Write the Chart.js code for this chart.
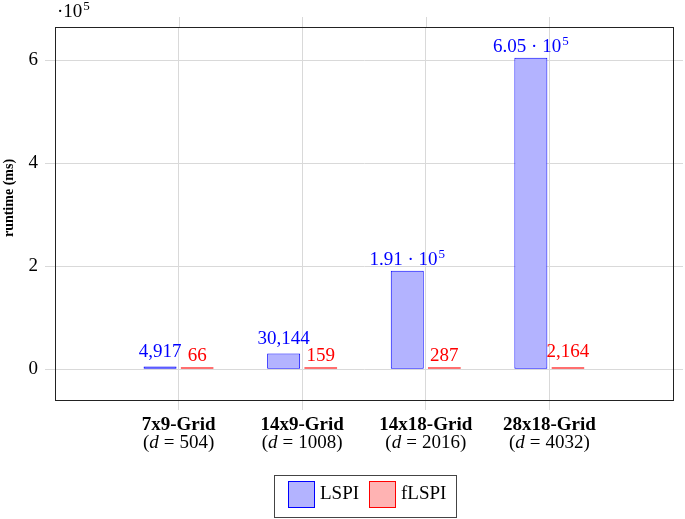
<!DOCTYPE html>
<html>
<head>
<meta charset="utf-8">
<script src="https://cdn.jsdelivr.net/npm/chart.js@4"></script>
<style>
  html, body { margin: 0; padding: 0; background: #fff; }
  #wrap { width: 685px; height: 519px; }
</style>
</head>
<body>
<div id="wrap"><canvas id="runtimeChart"></canvas></div>
<script>
const categories = ["7x9-Grid", "14x9-Grid", "14x18-Grid", "28x18-Grid"]
const dims = [504, 1008, 2016, 4032]
const lspi = [4917, 30144, 191000, 605000]
const flspi = [66, 159, 287, 2164]
const yTicks = [0, 200000, 400000, 600000]

const SERIF = "'Liberation Serif', 'Times New Roman', serif"
const GRID = "#d9d9d9"

// blank slots at both ends so the categories sit one step in from the frame
const labels = ["", ...categories, ""]
const pad = (arr) => [null, ...arr, null]

function labelParts(v) {
  if (v >= 100000) return [(v / 100000).toFixed(2) + " \u00b7 10", "5"]
  return [v.toLocaleString("en-US"), null]
}

function drawSup(ctx, main, sup, x, y, align) {
  ctx.font = "19px " + SERIF
  const w1 = ctx.measureText(main).width
  let w2 = 0
  if (sup) {
    ctx.font = "13px " + SERIF
    w2 = ctx.measureText(sup).width + 1
  }
  let x0 = align === "center" ? x - (w1 + w2) / 2 : x
  ctx.textAlign = "left"
  ctx.textBaseline = "alphabetic"
  ctx.font = "19px " + SERIF
  ctx.fillText(main, x0, y)
  if (sup) {
    ctx.font = "13px " + SERIF
    ctx.fillText(sup, x0 + w1 + 1, y - 7)
  }
}

const extras = {
  id: "extras",
  afterDatasetsDraw(chart) {
    const ctx = chart.ctx
    ctx.save()
    chart.data.datasets.forEach((ds, i) => {
      const meta = chart.getDatasetMeta(i)
      meta.data.forEach((bar, j) => {
        const v = ds.data[j]
        if (v == null) return
        const [main, sup] = labelParts(v)
        const lift = main.includes(",") ? 10 : 6
        ctx.fillStyle = ds.labelColor
        drawSup(ctx, main, sup, bar.x, bar.y - lift, "center")
      })
    })
    ctx.restore()
  },
  afterDraw(chart) {
    const ctx = chart.ctx
    const a = chart.chartArea
    const xs = chart.scales.x
    const ys = chart.scales.y
    ctx.save()

    // outside ticks on right and top
    ctx.strokeStyle = GRID
    ctx.lineWidth = 1
    ctx.beginPath()
    yTicks.forEach((t) => {
      const py = Math.round(ys.getPixelForValue(t)) + 0.5
      ctx.moveTo(a.right, py)
      ctx.lineTo(a.right + 10, py)
    })
    categories.forEach((c, i) => {
      const px = Math.round(xs.getPixelForValue(i + 1)) + 0.5
      ctx.moveTo(px, a.top)
      ctx.lineTo(px, a.top - 10)
    })
    ctx.stroke()

    // frame
    ctx.strokeStyle = "#222"
    ctx.strokeRect(Math.round(a.left) + 0.5, Math.round(a.top) + 0.5,
      Math.round(a.right - a.left), Math.round(a.bottom - a.top))

    // exponent marker
    ctx.fillStyle = "#000"
    drawSup(ctx, "\u00b710", "5", a.left + 2, 17, "left")

    // y title
    ctx.save()
    ctx.translate(9, 198)
    ctx.rotate(-Math.PI / 2)
    ctx.font = "bold 14px " + SERIF
    ctx.textAlign = "center"
    ctx.textBaseline = "middle"
    ctx.fillText("runtime (ms)", 0, 0)
    ctx.restore()

    // category labels
    ctx.fillStyle = "#000"
    categories.forEach((c, i) => {
      const px = xs.getPixelForValue(i + 1)
      const by = a.bottom + 48
      ctx.textAlign = "center"
      ctx.textBaseline = "alphabetic"
      ctx.font = "bold 19px " + SERIF
      ctx.fillText(c, px, a.bottom + 30)
      const parts = [
        ["(", "19px ", 0],
        ["d", "italic 19px ", 5],
        ["=", "19px ", 5],
        [dims[i] + ")", "19px ", 0],
      ]
      let total = 0
      parts.forEach((p) => {
        ctx.font = p[1] + SERIF
        p.push(ctx.measureText(p[0]).width)
        total += p[3] + p[2]
      })
      let x0 = px - total / 2
      ctx.textAlign = "left"
      parts.forEach((p) => {
        ctx.font = p[1] + SERIF
        ctx.fillText(p[0], x0, by)
        x0 += p[3] + p[2]
      })
    })

    // legend
    const lx = 274, ly = 475, lw = 182, lh = 42
    ctx.strokeStyle = "#444"
    ctx.strokeRect(lx + 0.5, ly + 0.5, lw, lh)
    chart.data.datasets.forEach((ds, i) => {
      const bx = i === 0 ? 288 : 369
      ctx.fillStyle = ds.backgroundColor
      ctx.fillRect(bx, 481, 26, 26)
      ctx.strokeStyle = ds.borderColor
      ctx.strokeRect(bx + 0.5, 481.5, 26, 26)
      ctx.fillStyle = "#000"
      ctx.font = "19px " + SERIF
      ctx.textAlign = "left"
      ctx.fillText(ds.label, bx + 32, 499)
    })
    ctx.restore()
  },
}

new Chart(document.getElementById("runtimeChart"), {
  type: "bar",
  data: {
    labels: labels,
    datasets: [
      {
        label: "LSPI",
        data: pad(lspi),
        backgroundColor: "#b3b3ff",
        borderColor: "#0000ff",
        labelColor: "#0000ff",
        borderWidth: 1,
        borderSkipped: false,
        minBarLength: 2,
      },
      {
        label: "fLSPI",
        data: pad(flspi),
        backgroundColor: "#ffb3b3",
        borderColor: "#ff0000",
        labelColor: "#ff0000",
        borderWidth: 1,
        borderSkipped: false,
        minBarLength: 2,
      },
    ],
  },
  options: {
    responsive: true,
    maintainAspectRatio: false,
    animation: false,
    categoryPercentage: 0.6,
    barPercentage: 0.89,
    layout: { padding: { top: 27, right: 12, left: 0, bottom: 0 } },
    plugins: {
      legend: { display: false },
      tooltip: { enabled: false },
    },
    scales: {
      x: {
        offset: false,
        grid: {
          offset: false,
          color: (c) => (c.index === 0 || c.index === labels.length - 1 ? "transparent" : GRID),
          tickLength: 10,
        },
        border: { display: true, color: "#222" },
        ticks: { display: false },
        afterFit: (s) => { s.height = 119 },
      },
      y: {
        min: -60000,
        max: 665000,
        grid: { color: GRID, tickLength: 10 },
        border: { display: true, color: "#222" },
        afterBuildTicks: (s) => { s.ticks = yTicks.map((v) => ({ value: v })) },
        ticks: {
          color: "#000",
          padding: 7,
          font: { family: SERIF, size: 19 },
          callback: (v) => v / 100000,
        },
        afterFit: (s) => { s.width = 55 },
      },
    },
  },
  plugins: [extras],
})
</script>
</body>
</html>
